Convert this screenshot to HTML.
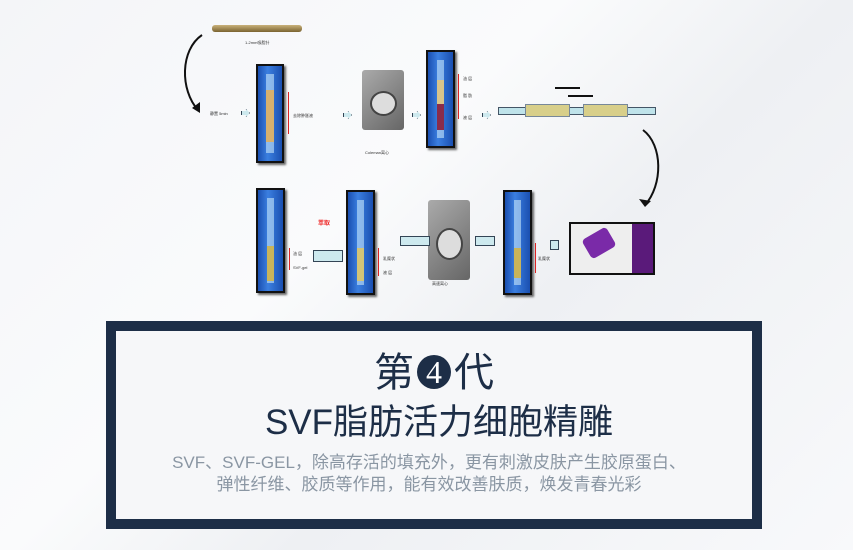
<!DOCTYPE html>
<html><head><meta charset="utf-8"><style>
*{margin:0;padding:0;box-sizing:border-box}
body{width:853px;height:550px;overflow:hidden;background:linear-gradient(135deg,#f4f5f8 0%,#fafbfc 40%,#eef0f3 60%,#f8f9fb 100%);position:relative;font-family:"Liberation Sans","Noto Sans CJK SC",sans-serif}
.a{position:absolute}
.syr{position:absolute;background:linear-gradient(90deg,#1a4fb0,#3b7fe0 40%,#1a4fb0);border:2px solid #111;box-shadow:2px 2px 2px #666}
.syr .t{position:absolute;left:35%;width:30%;top:8%;bottom:8%;background:rgba(200,230,250,.6)}
.syr .f{position:absolute;left:35%;width:30%}
.cen{position:absolute;background:linear-gradient(135deg,#aaa,#666);border-radius:3px}
.cen:after{content:"";position:absolute;left:20%;top:35%;width:55%;height:35%;border-radius:50%;background:#ddd;border:2px solid #444}
.lab{position:absolute;font-size:4px;color:#333;white-space:nowrap}
.red{position:absolute;border-left:1.5px solid #d22;}
.ba{position:absolute;height:8px;background:#bfe3ea;border:1.5px solid #456}
.ra{position:absolute;width:9px;height:8px;background:#cde9ee;border:1px solid #345;clip-path:polygon(0 25%,55% 25%,55% 0,100% 50%,55% 100%,55% 75%,0 75%)}
</style></head><body>
<div class="a" style="left:212px;top:25px;width:90px;height:7px;background:linear-gradient(#c9b27a,#7a6330);border-radius:3px"></div>
<div class="lab" style="left:245px;top:40px">1-2mm吸脂针</div>
<svg class="a" style="left:180px;top:30px" width="30" height="85"><path d="M22 5 C0 20,0 60,18 80" stroke="#111" stroke-width="2" fill="none"/><path d="M12 78 L20 83 L20 72 Z" fill="#111"/></svg>
<svg class="a" style="left:635px;top:125px" width="30" height="85"><path d="M8 5 C28 20,28 60,10 80" stroke="#111" stroke-width="2" fill="none"/><path d="M4 74 L10 82 L16 76 Z" fill="#111"/></svg>
<div class="lab" style="left:210px;top:111px">静置 5min</div>
<div class="ra" style="left:241px;top:109px"></div>
<div class="syr" style="left:256px;top:64px;width:28px;height:99px"><div class="t"></div><div class="f" style="top:25%;height:55%;background:#d6b06e"></div></div>
<div class="red" style="left:288px;top:92px;height:42px"></div>
<div class="lab" style="left:293px;top:113px">去除肿胀液</div>
<div class="ra" style="left:343px;top:111px"></div>
<div class="cen" style="left:362px;top:70px;width:42px;height:60px"></div>
<div class="lab" style="left:365px;top:150px">Coleman离心</div>
<div class="ra" style="left:412px;top:111px"></div>
<div class="syr" style="left:426px;top:50px;width:29px;height:98px"><div class="t"></div><div class="f" style="top:30%;height:25%;background:#d9c48a"></div><div class="f" style="top:55%;height:28%;background:#8a2c4a"></div></div>
<div class="red" style="left:458px;top:74px;height:45px"></div>
<div class="lab" style="left:463px;top:76px">油 层</div><div class="lab" style="left:463px;top:93px">脂 肪</div><div class="lab" style="left:463px;top:115px">液 层</div>
<div class="ra" style="left:482px;top:111px"></div>
<div class="ba" style="left:498px;top:107px;width:158px"></div>
<div class="a" style="left:525px;top:104px;width:45px;height:13px;background:#d8cf8a;border:1px solid #789"></div>
<div class="a" style="left:583px;top:104px;width:45px;height:13px;background:#d8cf8a;border:1px solid #789"></div>
<div class="a" style="left:555px;top:87px;width:25px;border-top:2px solid #111"></div>
<div class="a" style="left:568px;top:95px;width:25px;border-top:2px solid #111"></div>
<div class="syr" style="left:256px;top:188px;width:29px;height:105px"><div class="t"></div><div class="f" style="top:55%;height:35%;background:#c9b45a"></div></div>
<div class="red" style="left:289px;top:248px;height:22px"></div>
<div class="lab" style="left:293px;top:251px">油 层</div><div class="lab" style="left:293px;top:265px">SVF-gel</div>
<div class="syr" style="left:346px;top:190px;width:29px;height:105px"><div class="t"></div><div class="f" style="top:55%;height:33%;background:#d3c476"></div></div>
<div class="red" style="left:378px;top:248px;height:28px"></div>
<div class="lab" style="left:383px;top:256px">乳糜状</div><div class="lab" style="left:383px;top:270px">液 层</div>
<div class="cen" style="left:428px;top:200px;width:42px;height:80px"></div>
<div class="lab" style="left:432px;top:281px">高速离心</div>
<div class="syr" style="left:503px;top:190px;width:29px;height:105px"><div class="t"></div><div class="f" style="top:55%;height:30%;background:#c9b45a"></div></div>
<div class="red" style="left:535px;top:243px;height:30px"></div>
<div class="lab" style="left:538px;top:256px">乳糜状</div>
<div class="a" style="left:569px;top:222px;width:86px;height:53px;background:#eee;border:2px solid #111"></div>
<div class="a" style="left:585px;top:232px;width:28px;height:22px;background:#7a2aa8;border-radius:4px;transform:rotate(-30deg)"></div>
<div class="a" style="left:632px;top:224px;width:21px;height:49px;background:#5a1a7a"></div>
<div class="a" style="left:400px;top:236px;width:30px;height:10px;background:#cde9ee;border:1px solid #345"></div>
<div class="a" style="left:475px;top:236px;width:20px;height:10px;background:#cde9ee;border:1px solid #345"></div>
<div class="a" style="left:550px;top:240px;width:9px;height:10px;background:#cde9ee;border:1px solid #345"></div>
<div class="a" style="left:313px;top:250px;width:30px;height:12px;background:#cde9ee;border:1px solid #345"></div>
<div class="a" style="left:318px;top:218px;font-size:6px;color:#e22;font-weight:bold">萃取</div>
<div class="a" style="left:106px;top:321px;width:656px;height:208px;background:#1d2e47"></div>
<div class="a" style="left:116px;top:331px;width:636px;height:188px;background:#f6f7f9"></div>
<div class="a" style="left:116px;top:351px;width:636px;text-align:center;font-size:40px;color:#1d2e47;line-height:44px">第<span style="display:inline-block;width:34px;height:34px;border-radius:50%;background:#1d2e47;color:#fff;font-family:'Liberation Serif',serif;font-size:32px;line-height:34px;vertical-align:3px;margin:0 3px">4</span>代</div>
<div class="a" style="left:116px;top:402px;width:636px;text-align:center;font-size:35px;color:#1d2e47;line-height:42px;padding-left:10px">SVF脂肪活力细胞精雕</div>
<div class="a" style="left:116px;top:452px;width:636px;text-align:center;font-size:17px;color:#8a96a3;line-height:22px;padding-right:10px">SVF、SVF-GEL，除高存活的填充外，更有刺激皮肤产生胶原蛋白、<br>弹性纤维、胶质等作用，能有效改善肤质，焕发青春光彩</div>
</body></html>
